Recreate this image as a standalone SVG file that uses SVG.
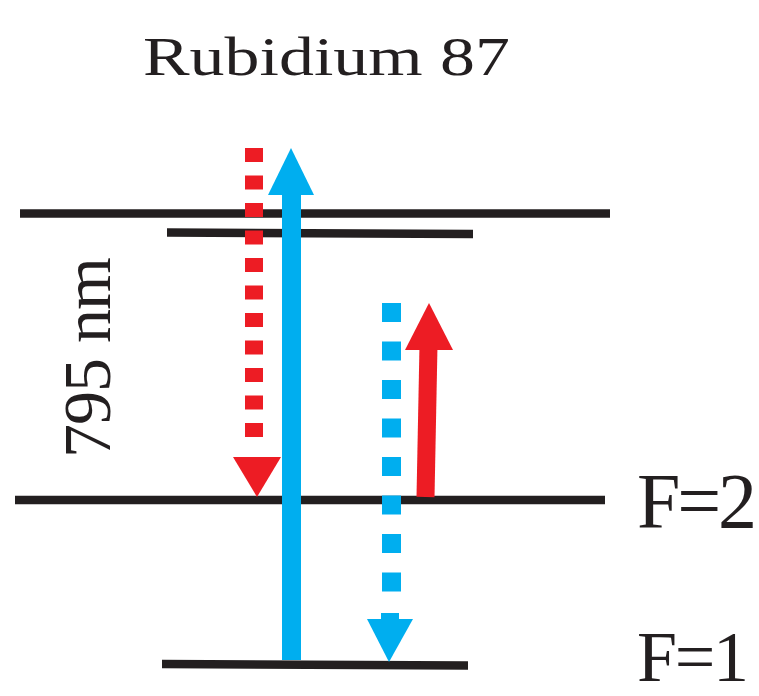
<svg xmlns="http://www.w3.org/2000/svg" width="759" height="696" viewBox="0 0 759 696">
<style>
.lvl{stroke:#231F20;stroke-width:8.5;fill:none}
.txt{font-family:"Liberation Serif","Times New Roman",serif;fill:#231F20}
.red{fill:#ED1C24}
.blue{fill:#00AEEF}
</style>
<rect width="759" height="696" fill="#fff"/>
<text class="txt" x="143" y="75" font-size="54" textLength="367" lengthAdjust="spacingAndGlyphs">Rubidium 87</text>
<g id="levels">
<line id="level-top1" class="lvl" x1="20" y1="213.5" x2="610" y2="213.5"/>
<line id="level-top2" class="lvl" x1="167" y1="232.5" x2="473" y2="234"/>
<line id="level-F2" class="lvl" x1="15" y1="500" x2="605" y2="500"/>
<line id="level-F1" class="lvl" x1="162" y1="664" x2="468" y2="665.5"/>
</g>
<g id="connectors">
<g id="blue-solid" class="blue">
<rect x="282" y="190" width="19" height="470"/>
<polygon points="291,148 268,195 314,195"/>
</g>
<g id="red-dotted" class="red">
<rect x="245" y="148" width="18" height="14"/>
<rect x="245" y="175.5" width="18" height="14"/>
<rect x="245" y="203" width="18" height="14"/>
<rect x="245" y="230.5" width="18" height="14"/>
<rect x="245" y="258" width="18" height="14"/>
<rect x="245" y="285.5" width="18" height="14"/>
<rect x="245" y="313" width="18" height="14"/>
<rect x="245" y="340.5" width="18" height="14"/>
<rect x="245" y="368" width="18" height="14"/>
<rect x="245" y="395.5" width="18" height="14"/>
<rect x="245" y="423" width="18" height="14"/>
<polygon points="233,457 281,457 257,497"/>
</g>
<g id="blue-dotted" class="blue">
<rect x="382" y="303" width="19" height="19"/>
<rect x="382" y="341.5" width="19" height="19"/>
<rect x="382" y="380" width="19" height="19"/>
<rect x="382" y="418.5" width="19" height="19"/>
<rect x="382" y="457" width="19" height="19"/>
<rect x="382" y="495.5" width="19" height="19"/>
<rect x="382" y="534" width="19" height="19"/>
<rect x="382" y="572.5" width="19" height="19"/>
<rect x="381" y="613" width="18" height="8"/>
<polygon points="367,619 413,619 389,662"/>
</g>
<g id="red-solid">
<line x1="425.5" y1="497" x2="428.5" y2="345" stroke="#ED1C24" stroke-width="18"/>
<polygon class="red" points="429,303 405,350 453,350"/>
</g>
</g>
<text class="txt" transform="translate(110,458) rotate(-90)" font-size="68" textLength="201">795 nm</text>
<text class="txt" x="637" y="527" font-size="78" textLength="120">F=2</text>
<text class="txt" x="637" y="681" font-size="72" textLength="112">F=1</text>
</svg>
